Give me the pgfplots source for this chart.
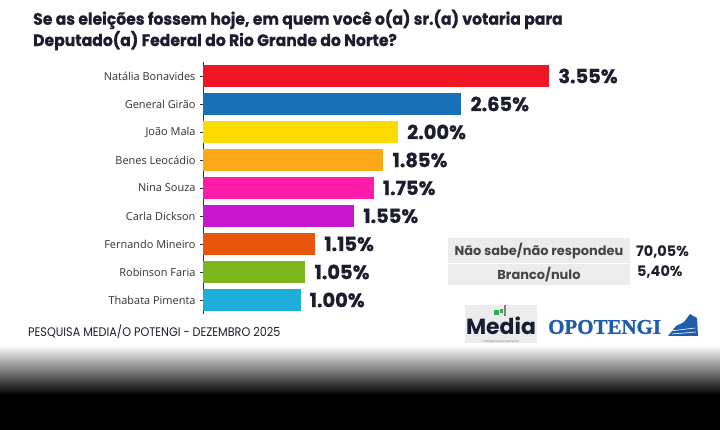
\documentclass[border=0pt]{standalone}
\usepackage{pgfplots}
\pgfplotsset{compat=1.18}
\usepackage{fontspec}
\setmainfont{Poppins}
\newfontfamily\labelfont{Open Sans}
\newfontfamily\popfont{Poppins}
\newfontfamily\popheavy{Poppins}[BoldFeatures={FakeBold=0.8}]
\newfontfamily\serifbold{Liberation Serif}[BoldFeatures={FakeBold=1}]

\definecolor{cNat}{RGB}{238,22,36}
\definecolor{cGen}{RGB}{24,112,182}
\definecolor{cJoao}{RGB}{253,218,0}
\definecolor{cBenes}{RGB}{251,168,24}
\definecolor{cNina}{RGB}{255,28,170}
\definecolor{cCarla}{RGB}{200,22,205}
\definecolor{cFern}{RGB}{232,86,14}
\definecolor{cRob}{RGB}{122,182,28}
\definecolor{cThab}{RGB}{28,174,216}
\definecolor{valtext}{RGB}{28,30,46}
\definecolor{ticktext}{RGB}{50,50,50}
\definecolor{boxgray}{RGB}{236,236,236}
\definecolor{potblue}{RGB}{30,92,172}
\definecolor{medianavy}{RGB}{22,30,52}
\definecolor{mediagreen}{RGB}{46,170,80}

\begin{document}
\begin{tikzpicture}
\useasboundingbox (0,0) rectangle (720bp,430bp);
\fill[white] (0,0) rectangle (720bp,430bp);

\begin{axis}[
  at={(203bp,116bp)}, anchor=south west,
  scale only axis, width=487.5bp, height=252bp,
  xbar, bar width=22bp, bar shift=0pt,
  xmin=0, xmax=5,
  ymin=-0.5, ymax=8.5, y dir=reverse,
  axis x line=none,
  axis y line*=left,
  y axis line style={draw=ticktext, line width=0.6pt, -},
  ytick={0,...,8},
  yticklabels={Natália Bonavides,General Girão,João Mala,Benes Leocádio,Nina Souza,Carla Dickson,Fernando Mineiro,Robinson Faria,Thabata Pimenta},
  tick align=outside, major tick length=3bp,
  tick style={draw=ticktext, line width=0.5pt},
  ticklabel style={font=\labelfont\fontsize{11}{13}\selectfont},
  yticklabel style={text=ticktext, xshift=-1bp},
  clip=false,
  /pgf/number format/assume math mode=true,
  nodes near coords={\pgfmathprintnumber[fixed,fixed zerofill,precision=2]{\pgfplotspointmeta}\%},
  nodes near coords style={anchor=west, inner sep=0pt, xshift=9bp,
    font=\popheavy\bfseries\fontsize{19.5}{19.5}\selectfont, text=valtext},
]
\addplot[fill=cNat, draw=none] coordinates {(3.55,0)};
\addplot[fill=cGen, draw=none] coordinates {(2.65,1)};
\addplot[fill=cJoao, draw=none] coordinates {(2.00,2)};
\addplot[fill=cBenes, draw=none] coordinates {(1.85,3)};
\addplot[fill=cNina, draw=none] coordinates {(1.75,4)};
\addplot[fill=cCarla, draw=none] coordinates {(1.55,5)};
\addplot[fill=cFern, draw=none] coordinates {(1.15,6)};
\addplot[fill=cRob, draw=none] coordinates {(1.05,7)};
\addplot[fill=cThab, draw=none] coordinates {(1.00,8)};
\end{axis}

\begin{scope}[x=1bp,y=1bp]
% title
\node[anchor=base west, inner sep=0, text=valtext]
  at (33,384) {\scalebox{0.95}[1]{\popheavy\bfseries\fontsize{16.5}{21}\selectfont
  \begin{tabular}[b]{@{}l@{}}Se as eleições fossem hoje, em quem você o(a) sr.(a) votaria para\\Deputado(a) Federal do Rio Grande do Norte?\end{tabular}}};

% side box with the remaining answers
\fill[boxgray] (448,430-285) rectangle (630,430-238);
\draw[white, line width=1pt] (448,430-263) -- (630,430-263);
\node[font=\popfont\bfseries\fontsize{13}{14}\selectfont, text=ticktext!90!white] at (539,430-251) {Não sabe/não respondeu};
\node[font=\popfont\bfseries\fontsize{13}{14}\selectfont, text=ticktext!90!white] at (539,430-275) {Branco/nulo};
\node[anchor=west, inner sep=0, font=\popfont\bfseries\fontsize{14.5}{15}\selectfont, text=valtext] at (636,430-252) {70,05\%};
\node[anchor=west, inner sep=0, font=\popfont\bfseries\fontsize{14.5}{15}\selectfont, text=valtext] at (637,430-272) {5,40\%};

% bottom fade
\shade[top color=white, bottom color=black] (0,430-395) rectangle (720,430-345);
\fill[black] (0,0) rectangle (720,430-394.5);

% source line
\node[anchor=west, inner sep=0, text=valtext] at (28,430-332)
  {\scalebox{0.9}[1]{\popfont\fontsize{12.5}{13}\selectfont PESQUISA MEDIA/O POTENGI - DEZEMBRO 2025}};

% logos
\fill[boxgray] (465,430-343) rectangle (537,430-305);
\fill[mediagreen] (494,430-315) rectangle (499,430-310);
\fill[mediagreen] (500,430-313) rectangle (503,430-309);
\fill[gray] (504,430-316) rectangle (506,430-305);
\node[font=\popfont\bfseries\fontsize{22}{22}\selectfont, text=medianavy, inner sep=0] at (501,430-325.5) {Media};
\node[font=\popfont\fontsize{2.8}{3}\selectfont, text=gray, inner sep=0] at (501,430-341.5) {Inteligência em pesquisa};
\node[anchor=west, inner sep=0, text=potblue, font=\serifbold\bfseries\fontsize{21}{21}\selectfont] at (548,430-327)
  {OPOTENGI};
% small harbour sketch beside the newspaper name
\fill[potblue] (668,430-336) -- (698,430-336) -- (697,430-318) -- (690,430-314) -- (684,430-322) -- (676,430-326) -- cycle;
\draw[white, line width=0.6pt] (670,430-331) -- (695,430-328) (672,430-334) -- (696,430-332);
\end{scope}
\end{tikzpicture}
\end{document}
